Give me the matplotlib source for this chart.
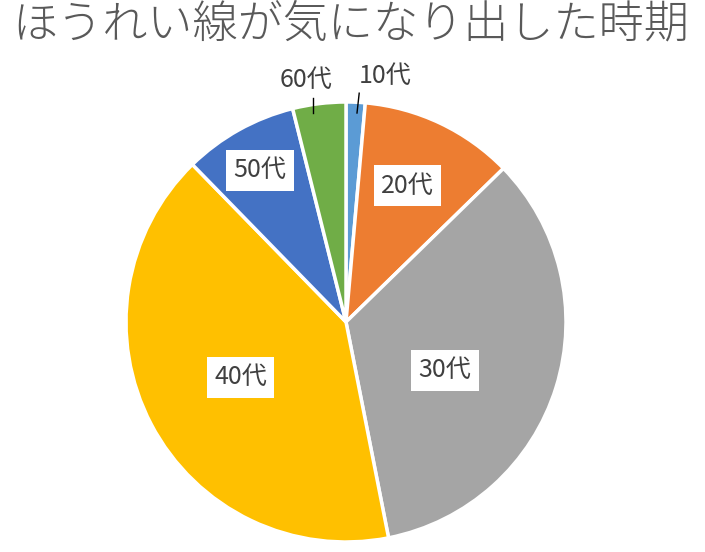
import matplotlib
matplotlib.use('Agg')
from matplotlib import pyplot as plt

plt.rcParams['font.family'] = ['Noto Sans CJK JP', 'DejaVu Sans']

title = 'ほうれい線が気になり出した時期'
labels = ['10代', '20代', '30代', '40代', '50代', '60代']
shares = [1.4, 11.3, 34.2, 40.8, 8.4, 3.9]
colors = ['#5B9BD5', '#ED7D31', '#A5A5A5', '#FFC000', '#4472C4', '#70AD47']

# label placement in pie units (radius = 1)
inside_pos = {'20代': (0.28, 0.62), '30代': (0.45, -0.22),
              '40代': (-0.48, -0.25), '50代': (-0.39, 0.69)}
outside_pos = {'10代': (0.18, 1.12), '60代': (-0.18, 1.10)}
leader = {'10代': ((0.06, 1.04), (0.05, 0.95)), '60代': ((-0.15, 1.02), (-0.15, 0.95))}

W, H = 705, 552
cx, cy, R = 346, 322, 220  # pie centre / radius in pixels

fig = plt.figure(figsize=(W / 100, H / 100), dpi=100)
ax = fig.add_axes([0, 0, 1, 1])

ax.pie(shares, colors=colors, startangle=90, counterclock=False, radius=1,
       wedgeprops=dict(edgecolor='white', linewidth=2.5))

# pie() resets the limits, so set them afterwards
ax.set_xlim(-cx / R, (W - cx) / R)
ax.set_ylim(-(H - cy) / R, cy / R)
ax.set_aspect('equal')
ax.axis('off')

for lab in labels:
    if lab in inside_pos:
        x, y = inside_pos[lab]
        ax.text(x, y, lab, fontsize=18, color='#404040', ha='center', va='center',
                bbox=dict(boxstyle='square,pad=0.3', facecolor='white', edgecolor='none'))
    else:
        x, y = outside_pos[lab]
        ax.text(x, y, lab, fontsize=18, color='#404040', ha='center', va='center')
        (x0, y0), (x1, y1) = leader[lab]
        ax.plot([x0, x1], [y0, y1], color='black', linewidth=1)

fig.text(12 / W, 1 - 25 / H, title, fontsize=32.5, color='#595959',
         ha='left', va='center', fontweight='light')

fig.savefig('out.png', dpi=100)
